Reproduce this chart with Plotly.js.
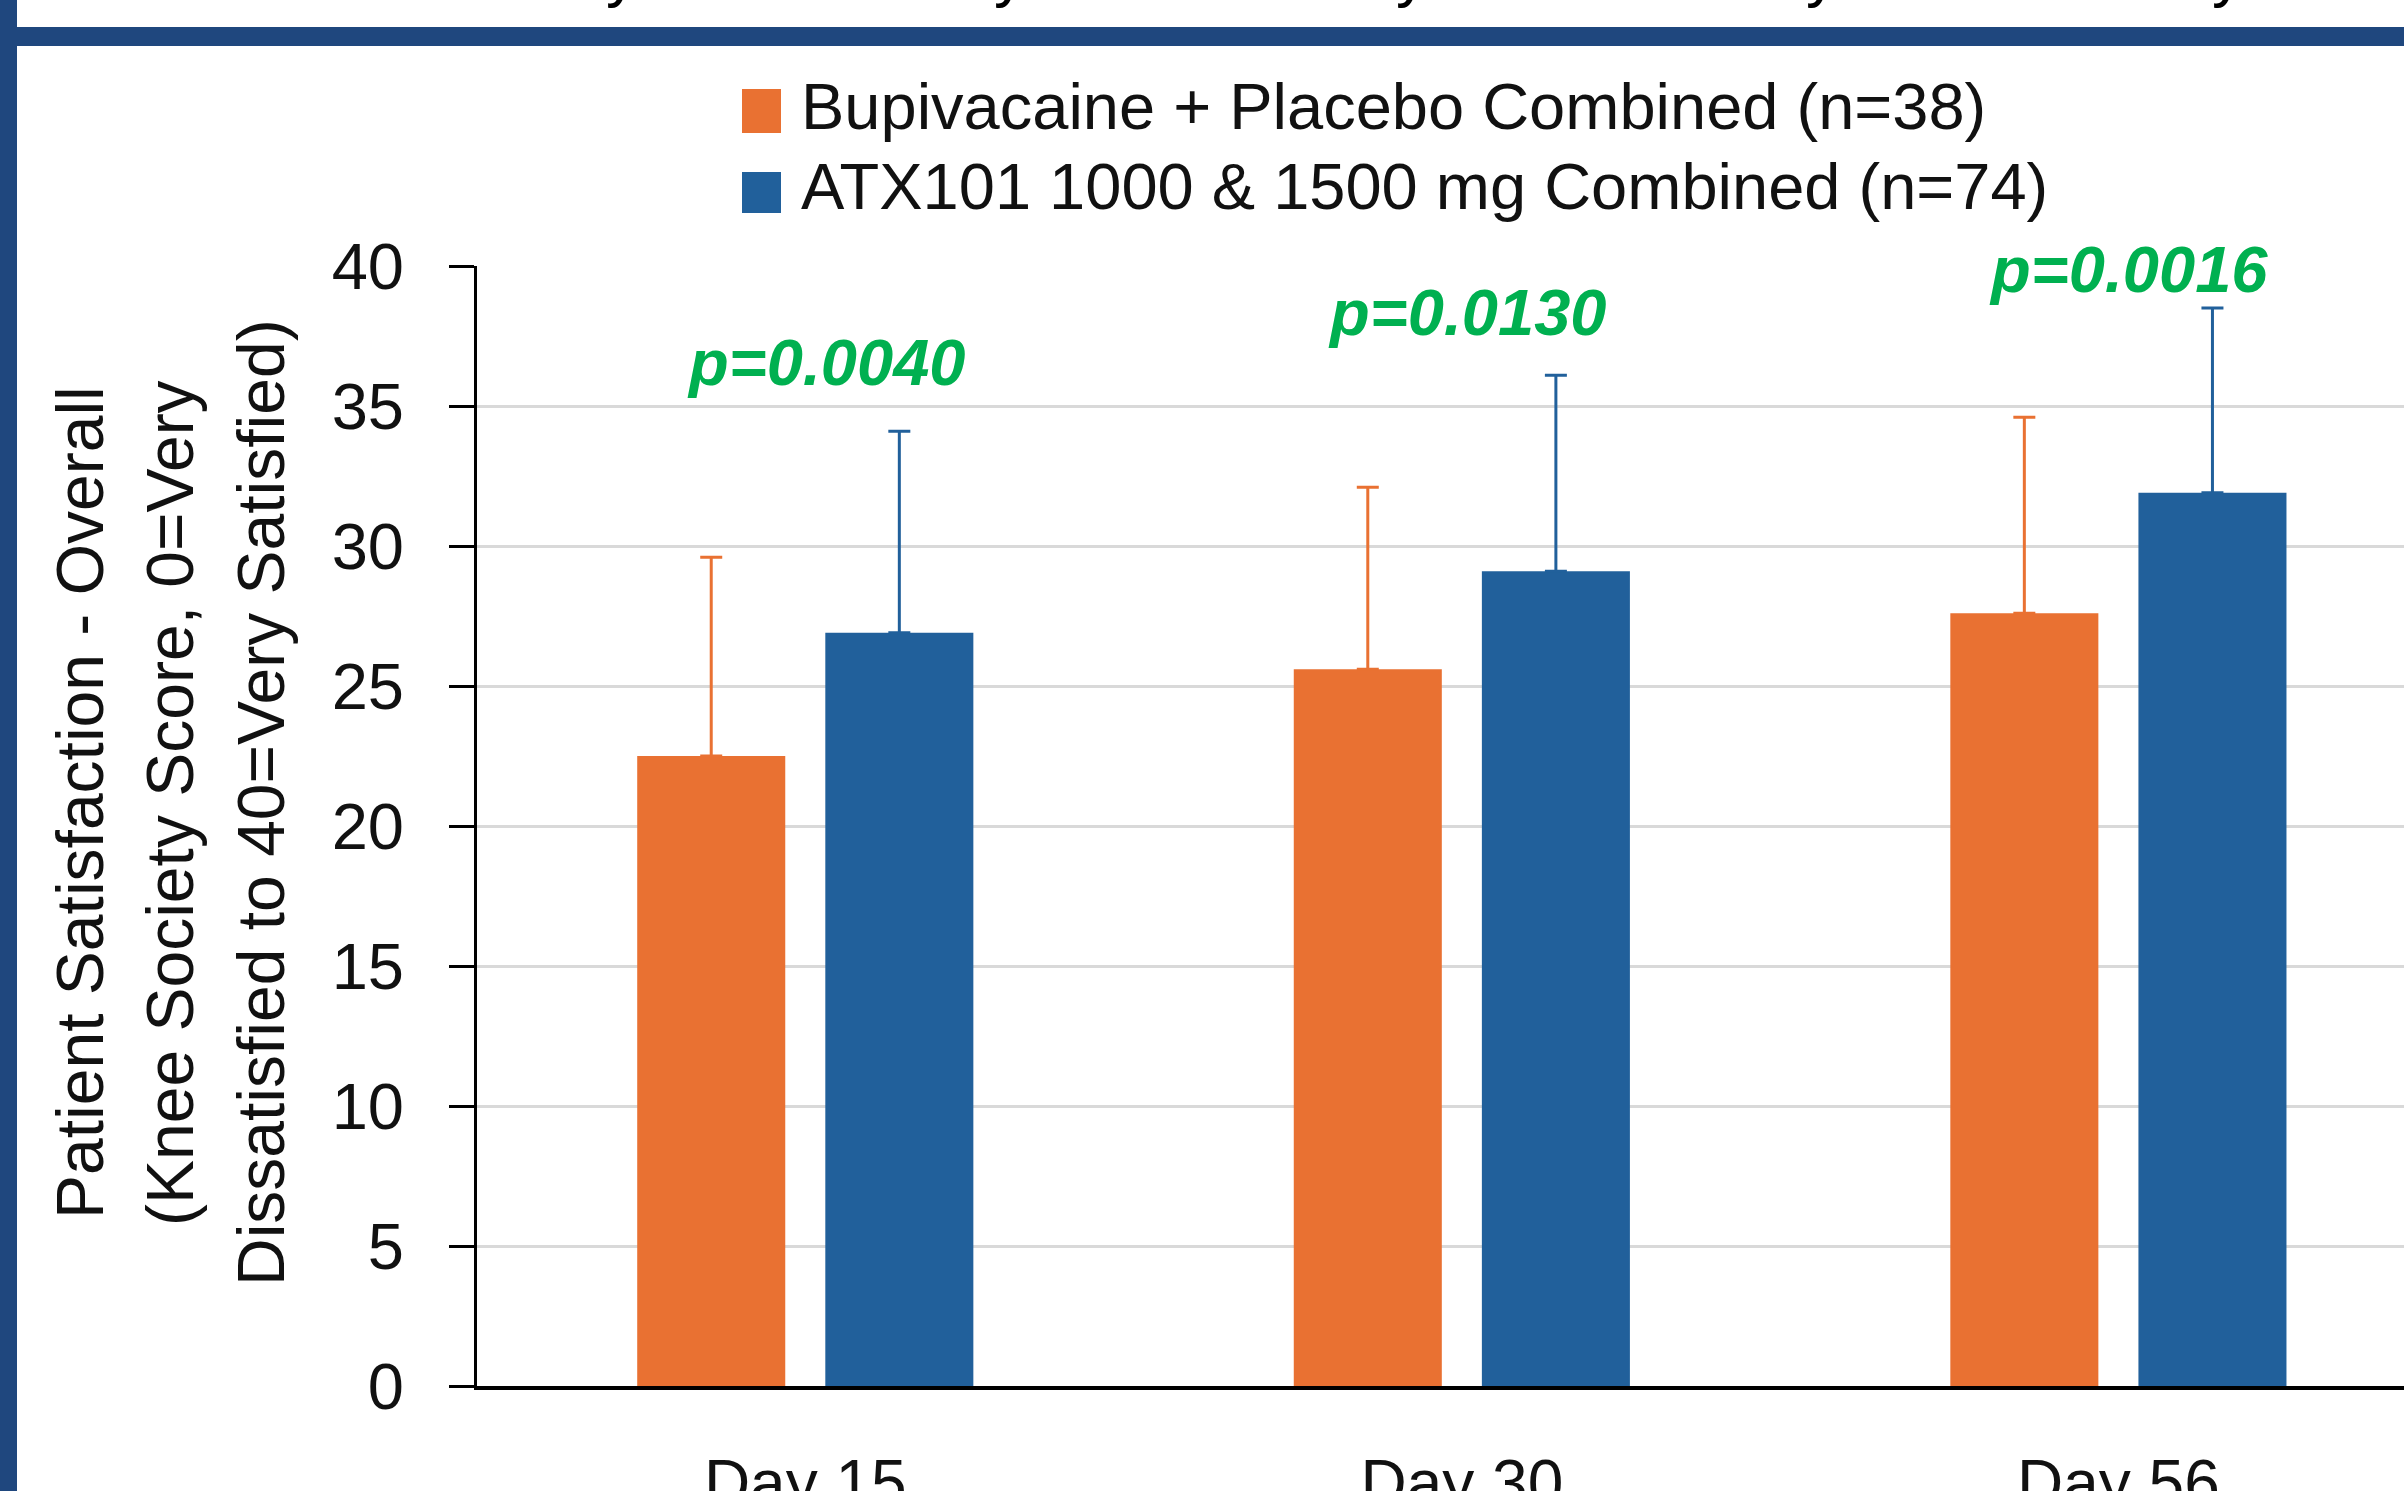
<!DOCTYPE html>
<html>
<head>
<meta charset="utf-8">
<script src="https://cdn.plot.ly/plotly-3.0.1.min.js"></script>
<style>
html,body{margin:0;padding:0;background:#fff;overflow:hidden;}
#chart{width:2404px;height:1491px;}
</style>
</head>
<body>
<div id="chart"></div>
<script>
// ---- data ----
const categories = ['Day 15', 'Day 30', 'Day 56'];
const seriesNames = ['Bupivacaine + Placebo Combined (n=38)', 'ATX101 1000 &amp; 1500 mg Combined (n=74)'];
const placeboMeans = [22.5, 25.6, 27.6];
const placeboSD = [7.1, 6.5, 7.0];
const atxMeans = [26.9, 29.1, 31.9];
const atxSD = [7.2, 7.0, 6.6];
const pLabels = ['p=0.0040', 'p=0.0130', 'p=0.0016'];
const yTickVals = [0, 5, 10, 15, 20, 25, 30, 35, 40];
const yTitleLines = ['Patient Satisfaction - Overall', '(Knee Society Score, 0=Very', 'Dissatisfied to 40=Very Satisfied)'];

// ---- layout helpers (pixel -> paper) ----
const PL = 477, PT = 266, PW = 1927, PH = 1120;
const px = x => (x - PL) / PW;
const py = y => (PT + PH - y) / PH;

const ORANGE = '#E97132';
const BLUE = '#21609B';
const NAVY = '#1F477E';
const FONT = 'Arial, "Liberation Sans", sans-serif';

const traces = [
  {
    type: 'bar', x: categories, y: placeboMeans, name: seriesNames[0],
    marker: {color: ORANGE, line: {width: 0}},
    error_y: {type: 'data', symmetric: false, array: placeboSD, arrayminus: placeboSD.map(() => 0),
              color: ORANGE, thickness: 3, width: 11},
    showlegend: false, hoverinfo: 'skip'
  },
  {
    type: 'bar', x: categories, y: atxMeans, name: seriesNames[1],
    marker: {color: BLUE, line: {width: 0}},
    error_y: {type: 'data', symmetric: false, array: atxSD, arrayminus: atxSD.map(() => 0),
              color: BLUE, thickness: 3, width: 11},
    showlegend: false, hoverinfo: 'skip'
  }
];

const annotations = [];
// p-values
const pX = [21, 5, 10];
const pY = [36.57, 38.34, 39.89];
pLabels.forEach((t, i) => {
  annotations.push({
    xref: 'x', yref: 'y', x: categories[i], y: pY[i], xshift: pX[i],
    text: '<b><i>' + t + '</i></b>', showarrow: false,
    xanchor: 'center', yanchor: 'middle',
    font: {family: FONT, size: 65, color: '#00B050'}
  });
});
// legend text
const legY = [107, 187];
seriesNames.forEach((t, i) => {
  annotations.push({
    xref: 'paper', yref: 'paper', x: px(799), y: py(legY[i]),
    text: t, showarrow: false, xanchor: 'left', yanchor: 'middle',
    font: {family: FONT, size: 65, color: '#111111'}
  });
});
// y title lines
const titleX = [80, 170, 261];
yTitleLines.forEach((t, i) => {
  annotations.push({
    xref: 'paper', yref: 'paper', x: px(titleX[i]), y: py(803),
    text: t, showarrow: false, textangle: -90, xanchor: 'center', yanchor: 'middle',
    font: {family: FONT, size: 66, color: '#111111'}
  });
});
// cropped text fragments at the very top
[622, 1010, 1412, 1822, 2228].forEach(x => {
  annotations.push({
    xref: 'paper', yref: 'paper', x: px(x), y: py(11), text: 'y', showarrow: false,
    xanchor: 'center', yanchor: 'bottom', font: {family: FONT, size: 64, color: '#000'}
  });
});

const shapes = [
  {type: 'rect', xref: 'paper', yref: 'paper', x0: px(0), x1: px(2404), y0: py(46), y1: py(27),
   fillcolor: NAVY, line: {width: 0}},
  {type: 'rect', xref: 'paper', yref: 'paper', x0: px(0), x1: px(17), y0: py(1491), y1: py(0),
   fillcolor: NAVY, line: {width: 0}},
  {type: 'rect', xref: 'paper', yref: 'paper', x0: px(742), x1: px(781), y0: py(133), y1: py(89),
   fillcolor: ORANGE, line: {width: 0}},
  {type: 'rect', xref: 'paper', yref: 'paper', x0: px(742), x1: px(781), y0: py(213), y1: py(172),
   fillcolor: BLUE, line: {width: 0}}
];

const layout = {
  width: 2404, height: 1491,
  margin: {l: PL, r: 2404 - PL - PW, t: PT, b: 1491 - PT - PH, pad: 0},
  paper_bgcolor: '#ffffff', plot_bgcolor: '#ffffff',
  barmode: 'group', bargap: 0.427, bargroupgap: 0.213,
  showlegend: false,
  font: {family: FONT, color: '#111111'},
  xaxis: {
    type: 'category', range: [-0.5, 2.435], showgrid: false, zeroline: false,
    showline: true, linecolor: '#000000', linewidth: 4,
    ticks: '', tickfont: {family: FONT, size: 64, color: '#111111'},
    ticklabelstandoff: 38, automargin: false, fixedrange: true
  },
  yaxis: {
    range: [0, 40], tickvals: yTickVals, ticktext: yTickVals.map(String),
    showgrid: true, gridcolor: '#d9d9d9', gridwidth: 3, zeroline: false,
    showline: true, linecolor: '#000000', linewidth: 3,
    ticks: 'outside', ticklen: 25, tickwidth: 3, tickcolor: '#000000',
    tickfont: {family: FONT, size: 65, color: '#111111'},
    ticklabelstandoff: 32, automargin: false, fixedrange: true
  },
  shapes: shapes,
  annotations: annotations
};

Plotly.newPlot('chart', traces, layout, {staticPlot: true, displayModeBar: false});
</script>
</body>
</html>
